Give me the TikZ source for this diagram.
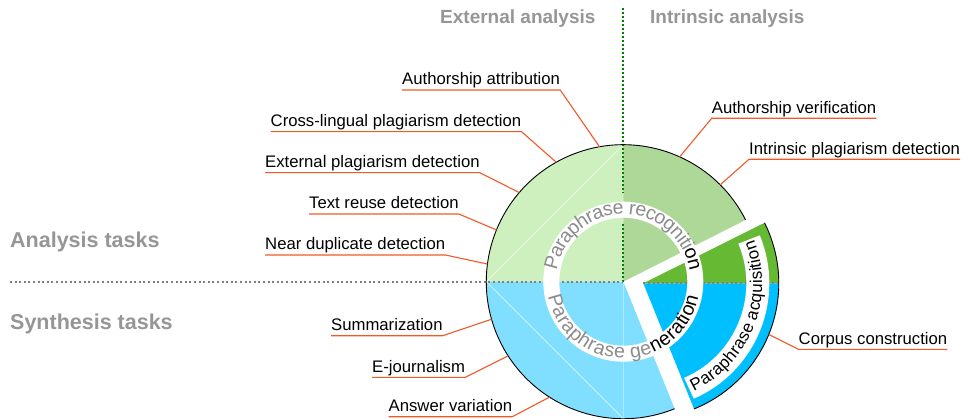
\documentclass[tikz,border=0pt]{standalone}
\usepackage{fontspec}
\setmainfont{Liberation Sans}
\usetikzlibrary{decorations.text}
\definecolor{lgreen}{RGB}{205,240,190}
\definecolor{mgreen}{RGB}{174,216,152}
\definecolor{dgreen}{RGB}{102,185,51}
\definecolor{lblue}{RGB}{128,223,255}
\definecolor{bblue}{RGB}{0,191,255}
\definecolor{leadc}{RGB}{240,90,40}
\definecolor{headgray}{RGB}{150,150,150}
\definecolor{ringgray}{RGB}{140,140,140}
\definecolor{dotgreen}{RGB}{0,128,0}
\definecolor{dotgray}{RGB}{128,128,128}
\newcommand\ringfont{\fontsize{19.5}{22}\selectfont}
\begin{document}
\begin{tikzpicture}[x=1pt,y=1pt,
  lbl/.style={font=\fontsize{16.7}{20}\selectfont, inner sep=0pt, anchor=base west, text=black},
  tophead/.style={font=\fontsize{19}{22}\selectfont\bfseries, inner sep=0pt, anchor=base west, text=headgray},
  sidehead/.style={font=\fontsize{21.5}{24}\selectfont\bfseries, inner sep=0pt, anchor=base west, text=headgray},
  leader/.style={draw=leadc, line width=1.1pt},
  greendot/.style={draw=dotgreen, line width=2pt, dash pattern=on 2pt off 2pt},
  graydot/.style={draw=dotgray, line width=1.8pt, dash pattern=on 2pt off 2.6pt},
  chord/.style={draw=white, line width=0.7pt, opacity=0.7},
  rim/.style={draw=black, line width=0.9pt}
]
\useasboundingbox (0,0) rectangle (963,418);
\fill[white] (0,0) rectangle (963,418);
\coordinate (C) at (623.3,136.3);
\coordinate (A) at (643.3,134.7);

% main pie sectors
\fill[lgreen] (C) -- ([shift={(90:137)}]C) arc[start angle=90,end angle=180,radius=137] -- cycle;
\fill[mgreen] (C) -- ([shift={(26.8:137)}]C) arc[start angle=26.8,end angle=90,radius=137] -- cycle;
\fill[lblue] (C) -- ([shift={(180:137)}]C) arc[start angle=180,end angle=292,radius=137] -- cycle;
\draw[chord] ([shift={(180:137)}]C) -- ([shift={(90:137)}]C);
\draw[chord] ([shift={(180:137)}]C) -- ([shift={(270:137)}]C);
\draw[draw=white, opacity=0.35, line width=0.7pt] (C) -- ([shift={(270:137)}]C);

% exploded acquisition sector
\fill[dgreen] (A) -- ([shift={(0:135.5)}]A) arc[start angle=0,end angle=26.5,radius=135.5] -- cycle;
\fill[bblue] (A) -- ([shift={(-68:135.5)}]A) arc[start angle=-68,end angle=0,radius=135.5] -- cycle;
\draw[graydot] (A) -- ([shift={(0:135.5)}]A);

% dotted axes
\coordinate (gtop) at (623.3,410);
\coordinate (gleft) at (10,136.3);
\draw[greendot] (gtop) -- ([shift={(90:89)}]C);
\draw[greendot] ([shift={(90:58)}]C) -- (C);
\draw[graydot] (gleft) -- (C);

% rims
\draw[rim] ([shift={(26.8:137)}]C) arc[start angle=26.8,end angle=292,radius=137];
\draw[rim] ([shift={(-68:135.5)}]A) arc[start angle=-68,end angle=26.5,radius=135.5];

% white ring
\fill[white, even odd rule] (C) circle[radius=80] (C) circle[radius=64];

% ring texts: gray in the main pie, black where they enter the exploded sector
\path[decorate, decoration={text along path, raise=-4.6pt,
  text={|\ringfont\color{ringgray}|Paraphrase recogniti|\ringfont\color{black}|on}}]
  ([shift={(170:72)}]C) arc[start angle=170,end angle=-10,radius=72];
\path[decorate, decoration={text along path, raise=-4.6pt,
  text={|\ringfont\color{ringgray}|Paraphrase ge|\ringfont\color{black}|neration}}]
  ([shift={(191:72)}]C) arc[start angle=191,end angle=360,radius=72];

% acquisition label
\draw[white, line width=23pt] ([shift={(-66.5:114.5)}]A) arc[start angle=-66.5,end angle=22.5,radius=114.5];
\path[decorate, decoration={text along path, raise=-4.4pt,
  text={|\fontsize{17}{20}\selectfont\color{black}|Paraphrase acquisition}}]
  ([shift={(-65:114.5)}]A) arc[start angle=-65,end angle=30,radius=114.5];

% headings
\node[tophead] (hext) at (440,394) {External analysis};
\node[tophead] (hint) at (650,394) {Intrinsic analysis};
\node[sidehead] (hana) at (10,170.5) {Analysis tasks};
\node[sidehead] (hsyn) at (10,88.5) {Synthesis tasks};

% anchor points on the rim
\coordinate (paa) at ([shift={(100:137)}]C);
\coordinate (pcl) at ([shift={(119.3:137)}]C);
\coordinate (pep) at ([shift={(139.4:137)}]C);
\coordinate (ptr) at ([shift={(157.8:137)}]C);
\coordinate (pnd) at ([shift={(172.6:137)}]C);
\coordinate (psu) at ([shift={(195.9:137)}]C);
\coordinate (pej) at ([shift={(212.8:137)}]C);
\coordinate (pav) at ([shift={(237.4:137)}]C);
\coordinate (pver) at ([shift={(65.7:137)}]C);
\coordinate (pip) at ([shift={(45:137)}]C);
\coordinate (pcc) at ([shift={(-22.2:135.5)}]A);

% left labels
\node[lbl] (aa) at (402,333) {Authorship attribution};
\node[lbl] (cl) at (270.5,291.3) {Cross-lingual plagiarism detection};
\node[lbl] (ep) at (265,250.3) {External plagiarism detection};
\node[lbl] (tr) at (309,209) {Text reuse detection};
\node[lbl] (nd) at (265,168) {Near duplicate detection};
\node[lbl] (su) at (331,87.3) {Summarization};
\node[lbl] (ej) at (372,45.7) {E-journalism};
\node[lbl] (av) at (388.5,6.3) {Answer variation};
\foreach \n in {aa,cl,ep,tr,nd,su,ej,av}{
  \draw[leader] ([yshift=-5pt]\n.base west) -- ([yshift=-5pt]\n.base east) -- (p\n);
}
% right labels
\node[lbl] (ver) at (711.7,304.7) {Authorship verification};
\node[lbl] (ip) at (749,263.7) {Intrinsic plagiarism detection};
\node[lbl] (cc) at (798.5,73.7) {Corpus construction};
\foreach \n in {ver,ip,cc}{
  \draw[leader] ([yshift=-5pt]\n.base east) -- ([yshift=-5pt]\n.base west) -- (p\n);
}
\end{tikzpicture}
\end{document}
